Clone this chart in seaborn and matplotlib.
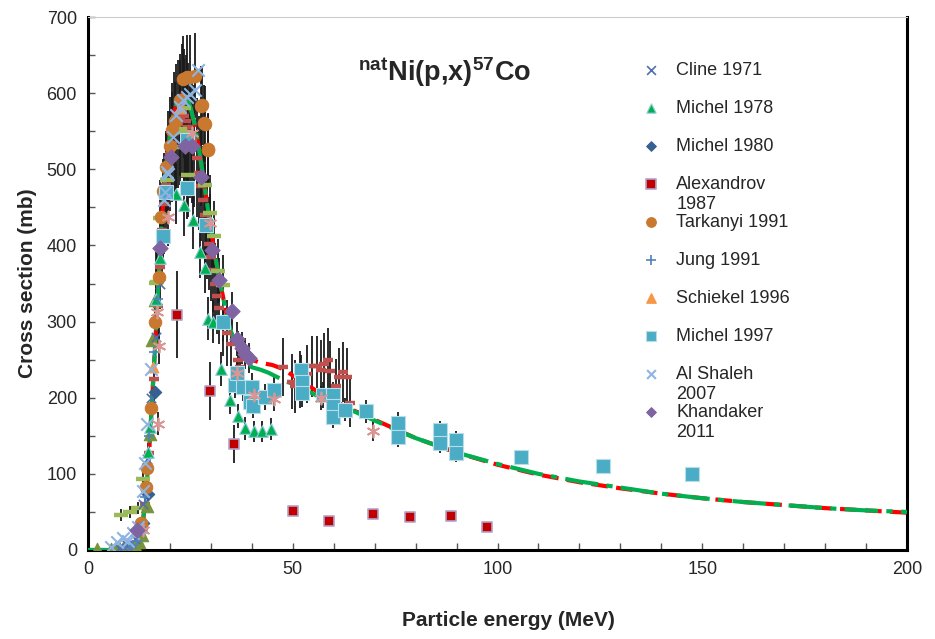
import matplotlib
matplotlib.use("Agg")
import matplotlib.pyplot as plt
import seaborn as sns
from matplotlib.ticker import MultipleLocator

# ---------------------------------------------------------------------------
# Data
# ---------------------------------------------------------------------------
# model curves
curve_red_x = [0, 10, 11, 12, 13, 14, 15, 16, 17, 18, 19, 20, 21, 22, 23, 24, 25, 26, 27, 28,
               29, 30, 31, 32, 33, 34, 35, 36, 38, 40, 42, 45, 48, 50, 53, 56, 60, 65, 70,
               80, 90, 100, 110, 120, 130, 140, 150, 160, 170, 180, 190, 200]
curve_red_y = [0, 0, 2, 6, 22, 62, 135, 230, 330, 430, 500, 545, 575, 592, 598, 595, 582, 560,
               530, 495, 458, 422, 388, 358, 332, 305, 285, 272, 258, 250, 246, 243, 237, 229,
               219, 208, 196, 183, 171, 147, 128, 112, 99, 89, 81, 74, 68, 63, 59, 55, 52, 49]
curve_green_x = [0, 10, 11, 12, 13, 14, 15, 16, 17, 18, 19, 20, 21, 22, 23, 24, 25, 26, 27, 28,
                 29, 30, 31, 32, 33, 34, 35, 36, 38, 40, 42, 44, 47, 50, 53, 57, 60, 65, 70,
                 80, 90, 100, 110, 120, 130, 140, 150, 160, 170, 180, 190, 200]
curve_green_y = [0, 0, 2, 6, 22, 62, 135, 230, 330, 430, 500, 545, 575, 592, 598, 595, 582, 560,
                 530, 495, 458, 422, 388, 358, 332, 305, 285, 272, 256, 240, 237, 233, 225, 218,
                 210, 200, 194, 182, 170, 147, 128, 113, 100, 90, 82, 74, 68, 63, 59, 55, 52, 50]

cline_x = [7.5, 8.5, 9.5, 10.5, 11.5, 12.5, 13.5, 14.5, 15.5, 16.5, 17.5]
cline_y = [3, 4, 6, 9, 14, 24, 60, 120, 200, 280, 350]

michel78_x = [13.2, 14.7, 15.1, 16.5, 17.6, 21.6, 23.4, 25.6, 27.4, 28.6, 29.4, 30.6, 32.6,
              34.7, 36.7, 38.3, 40.5, 42.6, 44.6]
michel78_y = [30, 129, 162, 329, 384, 468, 453, 433, 392, 370, 304, 300, 238, 197, 176, 160,
              156, 156, 159]
michel78_err = [4, 12, 15, 30, 35, 40, 40, 38, 35, 33, 28, 28, 22, 18, 16, 15, 14, 14, 14]

michel80_x = [13.5, 14.7, 16.4]
michel80_y = [35, 74, 208]

alex_x = [21.8, 29.8, 35.6, 50, 58.9, 69.6, 78.6, 88.6, 97.4]
alex_y = [309, 209, 139, 51, 38, 47, 43, 45, 30]
alex_err = [57, 38, 25, 7, 4, 6, 5, 5, 4]

tark_x = [12.9, 13.0, 14.2, 14.3, 15.4, 16.4, 17.3, 17.8, 18.3, 19.0, 20.0, 20.4, 21.2, 22.5,
          23.3, 24.1, 24.9, 26.1, 27.7, 27.8, 28.3, 28.6, 29.2, 29.4]
tark_y = [30, 36, 83, 108, 186, 300, 359, 437, 472, 503, 531, 551, 564, 591, 619, 621, 621,
          623, 583, 584, 561, 560, 527, 525]
tark_err = [3, 4, 8, 10, 17, 27, 32, 39, 42, 45, 48, 50, 51, 53, 56, 56, 56, 56, 52, 52, 50,
            50, 47, 47]

jung_x = [10, 11, 12, 13, 14, 15, 16, 17]
jung_y = [3, 6, 12, 30, 70, 150, 260, 330]

schiekel_x = [15.8, 17.6, 22.4]
schiekel_y = [240, 400, 580]

michel97_x = [18.2, 19.0, 24.1, 24.1, 28.8, 32.9, 35.9, 36.3, 37.9, 39.6, 40.0, 40.3, 43.2,
              45.3, 51.9, 52.2, 52.2, 57.5, 59.9, 59.9, 59.9, 62.8, 67.9, 75.8, 75.8, 86.0,
              86.0, 89.9, 89.9, 105.7, 125.7, 147.6]
michel97_y = [413, 470, 475, 538, 427, 300, 217, 232, 214, 195, 214, 189, 201, 210, 236, 221,
              206, 203, 204, 189, 175, 184, 182, 167, 148, 157, 140, 144, 127, 122, 110, 100]
michel97_err = [35, 40, 40, 45, 36, 25, 18, 19, 18, 16, 18, 16, 17, 18, 20, 19, 18, 17, 17,
                16, 15, 15, 15, 14, 13, 13, 12, 12, 11, 8, 6, 5]

alshaleh_x = [5.5, 7.0, 8.6, 9.8, 11.1, 12.3, 13.5, 13.9, 14.3, 15.3, 18.6, 18.8, 19.4, 19.6,
              20.7, 21.6, 22.5, 23.3, 24.1, 24.9, 26.1, 26.9]
alshaleh_y = [4, 10, 16, 12, 22, 30, 77, 114, 166, 238, 460, 470, 496, 494, 542, 571, 582,
              591, 595, 599, 604, 630]

khand_x = [11.9, 17.6, 20.2, 23.7, 25.3, 27.7, 30.4, 32.0, 35.1, 36.5, 37.5, 38.3, 39.3]
khand_y = [26, 396, 516, 531, 531, 490, 394, 355, 314, 277, 265, 258, 252]
khand_err = [3, 30, 40, 42, 42, 38, 30, 28, 25, 22, 21, 20, 20]

# further data sets shown in the plot without a legend entry
olive_tri_x = [2.2, 5.5, 6.5, 7.5, 8.5, 9.5, 10.5, 11.5, 12.5, 13.2, 14.3, 15.2, 15.6, 16.4]
olive_tri_y = [1, 1, 1, 2, 2, 3, 4, 6, 10, 20, 58, 153, 276, 328]

olive_dash_x = [8.0, 10.3, 12.1, 13.5, 16.5, 16.8, 17.7, 18.4, 19.2, 21.2, 22.5, 23.4, 23.7,
                24.3, 28.6, 29.8, 30.8, 31.8, 33.0]
olive_dash_y = [46, 50, 55, 93, 351, 352, 436, 435, 486, 529, 553, 580, 549, 492, 479, 442,
                413, 367, 348]
olive_dash_err = [8, 8, 8, 10, 40, 40, 50, 50, 55, 60, 62, 65, 62, 55, 54, 50, 46, 42, 40]

brown_x = [14, 15, 16, 17, 17.5, 18, 18.5, 19, 19.5, 20, 20.5, 21, 21.5, 22, 22.5, 23, 23.5,
           24, 24.5, 25, 25.5, 26, 26.5, 27, 27.5, 28, 28.5, 29, 29.5, 30, 30.5, 31, 31.5, 32,
           33, 34, 35, 36.7, 37, 47.7, 49.7, 50.5, 51.8, 53.4, 54.6, 56, 56.8, 57.7, 58.7,
           59.1, 60.6, 61.4, 62.3, 63.3, 64]
brown_y = [60, 128, 225, 320, 372, 420, 455, 480, 505, 520, 535, 548, 556, 560, 565, 576,
           570, 564, 555, 546, 538, 531, 515, 495, 478, 460, 440, 420, 402, 385, 368, 350,
           334, 318, 300, 285, 270, 249, 240, 240, 221, 215, 224, 231, 241, 241, 237, 244,
           250, 235, 215, 227, 234, 227, 193]
brown_err = [10, 20, 35, 50, 55, 62, 66, 70, 72, 75, 78, 80, 82, 84, 86, 88, 88, 86, 85, 84,
             82, 80, 78, 75, 72, 70, 67, 64, 61, 58, 56, 53, 50, 48, 45, 43, 41, 38, 37, 38,
             36, 35, 37, 38, 40, 40, 39, 41, 42, 39, 36, 38, 39, 38, 32]

pink_x = [13.5, 17.2, 16.9, 17.3, 19.6, 25.3, 29.8, 36.3, 40.5, 45.4, 57.0, 69.5]
pink_y = [26, 166, 313, 268, 437, 547, 430, 232, 204, 198, 200, 156]
pink_err = [3, 15, 28, 24, 38, 48, 38, 20, 17, 16, 16, 13]

# legend labels: first line in the legend itself, wrapped remainder below it
legend_order = ["Cline 1971", "Michel 1978", "Michel 1980", "Alexandrov", "Tarkanyi 1991",
                "Jung 1991", "Schiekel 1996", "Michel 1997", "Al Shaleh", "Khandaker"]
legend_wrap = {"Alexandrov": "1987", "Al Shaleh": "2007", "Khandaker": "2011"}

# ---------------------------------------------------------------------------
# Aesthetics
# ---------------------------------------------------------------------------
sns.set_style("ticks")
plt.rcParams["font.family"] = ["Liberation Sans", "DejaVu Sans"]
plt.rcParams["mathtext.fontset"] = "custom"
plt.rcParams["mathtext.rm"] = "Liberation Sans"
plt.rcParams["mathtext.bf"] = "Liberation Sans:bold"

fig = plt.figure(figsize=(9.35, 6.39), dpi=100)
ax = fig.add_axes([88 / 935, 1 - 550 / 639, (907 - 88) / 935, (550 - 17) / 639])


def add_series(x, y, label, marker, color, size, err=None, edge=None, lw=0.8, z=4):
    if err is not None:
        ax.errorbar(x, y, yerr=err, fmt="none", ecolor="#1a1a1a", elinewidth=1.3,
                    capsize=0, zorder=2)
    kws = dict(marker=marker, color=color, s=size, linewidth=lw, label=label,
               ax=ax, zorder=z)
    if edge is not None:
        kws["edgecolor"] = edge
    sns.scatterplot(x=x, y=y, **kws)


# model curves (under the data points)
sns.lineplot(x=curve_red_x, y=curve_red_y, color="#ff0000", lw=3, ax=ax, zorder=3,
             dashes=False).lines[-1].set_dashes([4, 2])
sns.lineplot(x=curve_green_x, y=curve_green_y, color="#00b050", lw=3, ax=ax, zorder=3,
             dashes=False).lines[-1].set_dashes([8, 2, 1.5, 2])

# series without legend entry
add_series(brown_x, brown_y, "_nolegend_", "_", "#c0504d", 45, err=brown_err, lw=3.2, z=4)
add_series(olive_dash_x, olive_dash_y, "_nolegend_", "_", "#9bbb59", 90, err=olive_dash_err,
           lw=3.2, z=4)
add_series(olive_tri_x, olive_tri_y, "_nolegend_", "^", "#77933c", 80, edge="#77933c", z=4)

# legend series
add_series(cline_x, cline_y, "Cline 1971", "x", "#4f6fae", 45, lw=1.2, z=5)
add_series(michel78_x, michel78_y, "Michel 1978", "^", "#00b050", 70, err=michel78_err,
           edge="#93cddd", z=5)
add_series(michel80_x, michel80_y, "Michel 1980", "D", "#376092", 40, edge="#376092", z=5)
add_series(alex_x, alex_y, "Alexandrov", "s", "#c00000", 55, err=alex_err,
           edge="#b3a2c7", lw=1.2, z=5)
add_series(schiekel_x, schiekel_y, "_nolegend_", "^", "#f79646", 60, edge="#f79646", z=4)
add_series(tark_x, tark_y, "Tarkanyi 1991", "o", "#c8782f", 80, err=tark_err,
           edge="#c8782f", z=5)
add_series(jung_x, jung_y, "Jung 1991", "+", "#4f81bd", 45, lw=1.2, z=5)
add_series(michel97_x, michel97_y, "Michel 1997", "s", "#4bacc6", 90, err=michel97_err,
           edge="#b7dee8", z=5)
add_series(pink_x, pink_y, "_nolegend_", (6, 2, 0), "#d99694", 75, err=pink_err, lw=1.3, z=5)
add_series(alshaleh_x, alshaleh_y, "Al Shaleh", "x", "#8db4e2", 80, lw=1.5, z=6)
add_series(khand_x, khand_y, "Khandaker", "D", "#8064a2", 60, err=khand_err,
           edge="#8064a2", z=6)

# legend: markers in the order of the reference
handles, labels = ax.get_legend_handles_labels()
proxy = ax.scatter([], [], marker="^", color="#f79646", s=60, label="Schiekel 1996")
lookup = dict(zip(labels, handles))
lookup["Schiekel 1996"] = proxy
leg = ax.legend([lookup[k] for k in legend_order], legend_order, loc="upper left",
                bbox_to_anchor=(642 / 935, 1 - 62 / 639), bbox_transform=fig.transFigure,
                frameon=False, fontsize=13, handlelength=1.0, handletextpad=0.9,
                labelspacing=1.16, borderpad=0, borderaxespad=0)
legend_sizes = {"x": 40, "^": 45, "D": 24, "s": 48, "o": 48, "+": 45}
legend_markers = ["x", "^", "D", "s", "o", "+", "^", "s", "x", "D"]
for h, m in zip(leg.legend_handles, legend_markers):
    h.set_sizes([legend_sizes[m]])
for t in leg.get_texts():
    rest = legend_wrap.get(t.get_text())
    if rest:
        ax.annotate(rest, xy=(0, 0), xycoords=t, xytext=(0, -2.5), textcoords="offset points",
                    ha="left", va="top", fontsize=13, annotation_clip=False)

ax.text(87, 627, r"$\mathbf{^{nat}Ni(p{,}x)^{57}Co}$", fontsize=19.5, ha="center",
        va="center")

ax.set_xlim(0, 200)
ax.set_ylim(0, 700)
ax.xaxis.set_major_locator(MultipleLocator(50))
ax.xaxis.set_minor_locator(MultipleLocator(10))
ax.yaxis.set_major_locator(MultipleLocator(100))
ax.yaxis.set_minor_locator(MultipleLocator(50))
ax.tick_params(which="both", direction="in", length=5, width=1, color="#555555")
ax.tick_params(axis="both", which="major", labelsize=13, pad=8)
ax.set_xlabel("Particle energy (MeV)", fontsize=15, fontweight="bold", labelpad=26)
ax.xaxis.set_label_coords((508 - 88) / 819, -0.115)
ax.set_ylabel("Cross section (mb)", fontsize=15, fontweight="bold", labelpad=7)
for side in ["left", "bottom", "right"]:
    ax.spines[side].set_linewidth(2.2)
    ax.spines[side].set_color("black")
ax.spines["top"].set_linewidth(0.8)
ax.spines["top"].set_color("#cccccc")

fig.canvas.draw()
fig.savefig("out.png", dpi=100)
